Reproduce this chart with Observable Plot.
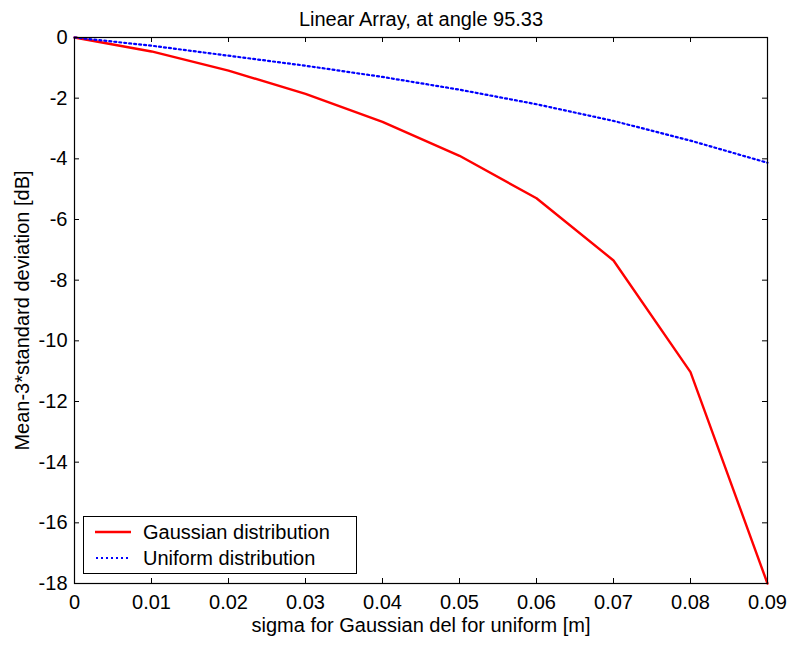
<!DOCTYPE html>
<html>
<head>
<meta charset="utf-8">
<script src="https://cdn.jsdelivr.net/npm/d3@7"></script>
<script src="https://cdn.jsdelivr.net/npm/@observablehq/plot@0.6"></script>
<style>
  html, body { margin: 0; padding: 0; background: #fff; }
  #wrap { position: relative; width: 790px; height: 645px; font-family: "Liberation Sans", Arial, sans-serif; }
  #legend { position: absolute; left: 83px; top: 516px; width: 272px; height: 56px; border: 1px solid #000; background: #fff; font-size: 20px; color: #000; }
  #legend .row { position: absolute; left: 0; height: 24px; line-height: 24px; display: flex; align-items: center; white-space: nowrap; }
  #legend svg { margin-left: 11px; margin-right: 12px; }
</style>
</head>
<body>
<div id="wrap"></div>
<script>
// ---- data ----
const sigma = [0, 0.01, 0.02, 0.03, 0.04, 0.05, 0.06, 0.07, 0.08, 0.09];
const gaussian = [0, -0.46, -1.09, -1.86, -2.78, -3.9, -5.3, -7.35, -11.03, -18.0];
const uniform = [0, -0.27, -0.6, -0.93, -1.3, -1.72, -2.2, -2.75, -3.4, -4.13];
const seriesNames = ["Gaussian distribution", "Uniform distribution"];
const xTicks = [0, 0.01, 0.02, 0.03, 0.04, 0.05, 0.06, 0.07, 0.08, 0.09];
const xTickLabels = ["0", "0.01", "0.02", "0.03", "0.04", "0.05", "0.06", "0.07", "0.08", "0.09"];
const yTicks = [0, -2, -4, -6, -8, -10, -12, -14, -16, -18];
const yTickLabels = ["0", "-2", "-4", "-6", "-8", "-10", "-12", "-14", "-16", "-18"];
const titleText = "Linear Array, at angle 95.33";
const xLabel = "sigma for Gaussian del for uniform [m]";
const yLabel = "Mean-3*standard deviation [dB]";

const gData = sigma.map((s, i) => ({x: s, y: gaussian[i]}));
const uData = sigma.map((s, i) => ({x: s, y: uniform[i]}));

const W = 790, H = 645, mL = 74, mR = 23, mT = 37, mB = 62;
const fw = W - mL - mR, fh = H - mT - mB, tl = 5;
const font = '"Liberation Sans", Arial, sans-serif';

const chart = Plot.plot({
  width: W, height: H,
  marginLeft: mL, marginRight: mR, marginTop: mT, marginBottom: mB,
  style: {fontFamily: font, fontSize: "20px", background: "#fff", color: "#000", overflow: "visible"},
  x: {domain: [0, 0.09]},
  y: {domain: [-18, 0]},
  marks: [
    Plot.line(gData, {x: "x", y: "y", stroke: "#ff0000", strokeWidth: 2.4}),
    Plot.line(uData, {x: "x", y: "y", stroke: "#0000ff", strokeWidth: 2.2, strokeDasharray: "2,3"}),
    Plot.frame({stroke: "#000", strokeWidth: 1.2}),
    // inward ticks
    Plot.tickX(xTicks, {x: d => d, insetTop: fh - tl, stroke: "#000"}),
    Plot.tickX(xTicks, {x: d => d, insetBottom: fh - tl, stroke: "#000"}),
    Plot.tickY(yTicks, {y: d => d, insetLeft: fw - tl, stroke: "#000"}),
    Plot.tickY(yTicks, {y: d => d, insetRight: fw - tl, stroke: "#000"}),
    Plot.axisX(xTicks, {tickSize: 0, tickPadding: 11, tickFormat: (d, i) => xTickLabels[i], label: null, fontSize: 20}),
    Plot.axisY(yTicks, {tickSize: 0, tickPadding: 7, tickFormat: (d, i) => yTickLabels[i], label: null, fontSize: 20}),
    Plot.text([titleText], {frameAnchor: "top", dy: -26, fontSize: 20, textAnchor: "middle", text: d => d}),
    Plot.text([xLabel], {frameAnchor: "bottom", dy: 48, fontSize: 20, textAnchor: "middle", text: d => d}),
    Plot.text([yLabel], {frameAnchor: "left", dx: -52, rotate: -90, fontSize: 20, textAnchor: "middle", text: d => d})
  ]
});

const wrap = document.getElementById("wrap");
wrap.appendChild(chart);

const legend = document.createElement("div");
legend.id = "legend";
legend.innerHTML = `
  <div class="row" style="top:3px"><svg width="36" height="6"><line x1="0" y1="3" x2="36" y2="3" stroke="#ff0000" stroke-width="2.4"/></svg><span>${seriesNames[0]}</span></div>
  <div class="row" style="top:29px"><svg width="36" height="6"><line x1="1" y1="3" x2="36" y2="3" stroke="#0000ff" stroke-width="2.2" stroke-dasharray="2,3"/></svg><span>${seriesNames[1]}</span></div>`;
wrap.appendChild(legend);
</script>
</body>
</html>
